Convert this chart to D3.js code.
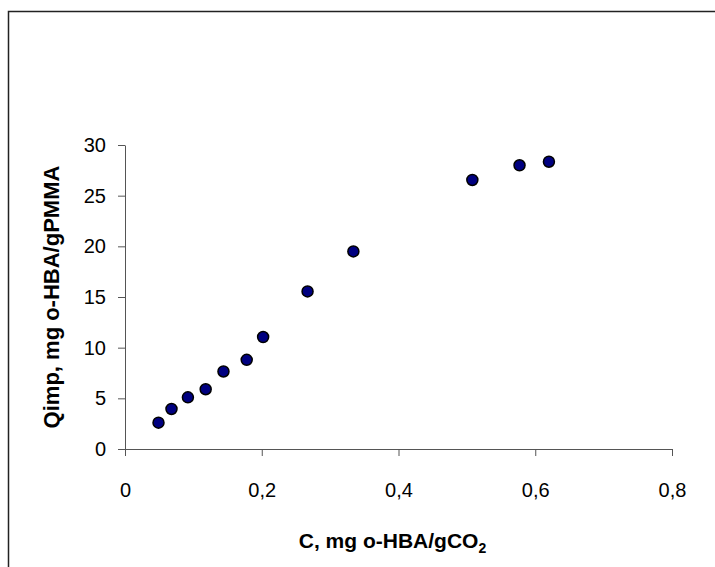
<!DOCTYPE html>
<html>
<head>
<meta charset="utf-8">
<script src="https://cdn.jsdelivr.net/npm/d3@7"></script>
<style>
    body { margin: 0; background: #fff; }
    svg { display: block; font-family: "Liberation Sans", Arial, sans-serif; }
</style>
</head>
<body>
<div id="chart"></div>
<script>
// concentration in CO2 (mg o-HBA / g CO2)
const cValues = [0.049, 0.068, 0.092, 0.118, 0.144, 0.178, 0.202, 0.267, 0.334, 0.508, 0.577, 0.620];
// impregnated amount (mg o-HBA / g PMMA)
const qValues = [2.6, 3.95, 5.1, 5.9, 7.65, 8.8, 11.05, 15.55, 19.5, 26.55, 28.0, 28.35];
const xTicks = [0, 0.2, 0.4, 0.6, 0.8];
const yTicks = [0, 5, 10, 15, 20, 25, 30];

const points = cValues.map((c, i) => ({ c: c, q: qValues[i] }));

function drawChart() {
    const width = 715;
    const height = 567;
    const plot = { left: 125, right: 672, top: 145, bottom: 449 };

    const svg = d3.select('#chart').append('svg')
        .attr('width', width)
        .attr('height', height);

    // outer chart frame (only top and left edges are inside the picture)
    svg.append('rect')
        .attr('x', 8.5).attr('y', 11.5)
        .attr('width', width + 20).attr('height', height + 20)
        .attr('fill', 'none')
        .attr('stroke', '#222')
        .attr('stroke-width', 1.5);

    const xScale = d3.scaleLinear().domain([0, 0.8]).range([plot.left, plot.right]);
    const yScale = d3.scaleLinear().domain([0, 30]).range([plot.bottom, plot.top]);
    const fmt = (d) => String(d).replace('.', ',');

    const xAxis = svg.append('g')
        .attr('transform', `translate(0, ${plot.bottom})`)
        .call(d3.axisBottom(xScale).tickValues(xTicks).tickFormat(fmt).tickSize(7).tickSizeOuter(0).tickPadding(27));
    const yAxis = svg.append('g')
        .attr('transform', `translate(${plot.left}, 0)`)
        .call(d3.axisLeft(yScale).tickValues(yTicks).tickFormat(fmt).tickSize(7).tickSizeOuter(0).tickPadding(12));

    [xAxis, yAxis].forEach((ax) => {
        ax.select('.domain').attr('stroke', '#555');
        ax.selectAll('.tick line').attr('stroke', '#555');
        ax.selectAll('.tick text')
            .attr('fill', '#000')
            .style('font-size', '20px')
            .style('font-family', '"Liberation Sans", Arial, sans-serif');
    });

    // axis titles
    const xTitle = svg.append('text')
        .attr('x', (plot.left + plot.right) / 2 - 6)
        .attr('y', 548)
        .attr('text-anchor', 'middle')
        .style('font-size', '21px')
        .style('font-weight', 'bold');
    xTitle.append('tspan').text('C, mg o-HBA/gCO');
    xTitle.append('tspan').attr('dy', 5).style('font-size', '14px').text('2');

    svg.append('text')
        .attr('transform', `translate(59, ${(plot.top + plot.bottom) / 2}) rotate(-90)`)
        .attr('text-anchor', 'middle')
        .style('font-size', '22px')
        .style('font-weight', 'bold')
        .text('Qimp, mg o-HBA/gPMMA');

    svg.append('g').attr('class', 'dots')
        .selectAll('circle').data(points).join('circle')
        .attr('cx', (d) => xScale(d.c))
        .attr('cy', (d) => yScale(d.q))
        .attr('r', 5.5)
        .attr('fill', '#000080')
        .attr('stroke', '#000')
        .attr('stroke-width', 1.5);
}

document.addEventListener('DOMContentLoaded', drawChart);
</script>
</body>
</html>
